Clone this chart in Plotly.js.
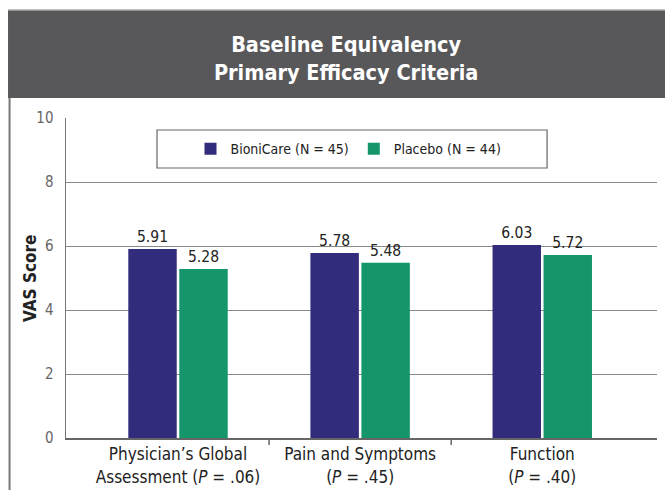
<!DOCTYPE html>
<html>
<head>
<meta charset="utf-8">
<script src="https://cdn.plot.ly/plotly-3.0.1.min.js"></script>
<style>
html,body{margin:0;padding:0;background:#fff;}
#chart{width:665px;height:490px;}
</style>
</head>
<body>
<div id="chart"></div>
<script>
const categories = [
  "Physician’s Global<br>Assessment (<i>P</i> = .06)",
  "Pain and Symptoms<br>(<i>P</i> = .45)",
  "Function<br>(<i>P</i> = .40)"
];
const bionicareValues = [5.91, 5.78, 6.03];
const placeboValues = [5.28, 5.48, 5.72];
const seriesNames = ["BioniCare (N = 45)", "Placebo (N = 44)"];
const yTicks = [0, 2, 4, 6, 8, 10];

const FONT = "'Liberation Sans Narrow', 'DejaVu Sans Condensed', 'Roboto Condensed', 'Liberation Sans', sans-serif";

const traces = [
  {
    type: "bar", name: seriesNames[0], x: categories, y: bionicareValues,
    marker: {color: "#322C7D"},
    text: bionicareValues.map(v => v.toFixed(2)), textposition: "outside",
    textfont: {family: FONT, size: 15.5, color: "#222"}, cliponaxis: false
  },
  {
    type: "bar", name: seriesNames[1], x: categories, y: placeboValues,
    marker: {color: "#14966A"},
    text: placeboValues.map(v => v.toFixed(2)), textposition: "outside",
    textfont: {family: FONT, size: 15.5, color: "#222"}, cliponaxis: false
  }
];

const layout = {
  width: 665, height: 490,
  margin: {l: 66, r: 8, t: 118, b: 52},
  paper_bgcolor: "#fff", plot_bgcolor: "#fff",
  font: {family: FONT, color: "#222"},
  barmode: "group", bargap: 0.44, bargroupgap: 0.05,
  showlegend: true,
  legend: {
    orientation: "h", x: 0.478, xanchor: "center", y: 0.903, yanchor: "middle",
    bgcolor: "rgba(0,0,0,0)", borderwidth: 0,
    font: {family: FONT, size: 14, color: "#222"}
  },
  title: {
    text: "<b>Baseline Equivalency<br>Primary Efficacy Criteria</b>",
    font: {family: FONT, size: 21.5, color: "#fff"},
    x: 0.474, xref: "paper", xanchor: "center",
    y: 0.893, yref: "container", yanchor: "middle"
  },
  xaxis: {
    type: "category", range: [-0.615, 2.63],
    showline: true, linecolor: "#666", linewidth: 2,
    ticks: "", showgrid: false, zeroline: false,
    tickfont: {family: FONT, size: 17, color: "#222"}
  },
  yaxis: {
    range: [0, 10], tickvals: yTicks, ticks: "",
    showline: true, linecolor: "#777", linewidth: 1.5,
    showgrid: true, gridcolor: "#888", gridwidth: 1, zeroline: false,
    ticklabelstandoff: 8,
    tickfont: {family: FONT, size: 15, color: "#666"}
  },
  annotations: [
    {text: "<b>VAS Score</b>", xref: "paper", yref: "paper", x: -0.061, y: 0.5,
     xanchor: "center", yanchor: "middle", textangle: -90, showarrow: false,
     font: {family: FONT, size: 17, color: "#222"}}
  ],
  shapes: [
    {type: "rect", xref: "paper", yref: "paper", x0: -0.0981, x1: 1.02, y0: 1.0625, y1: 1.3375,
     fillcolor: "#58585A", line: {width: 0}, layer: "below"},
    {type: "line", xref: "paper", yref: "paper", x0: -0.0981, x1: 1.02, y0: 1.3375, y1: 1.3375,
     line: {color: "#aaa", width: 1.5}},
    {type: "line", xref: "paper", yref: "paper", x0: -0.0955, x1: -0.0955, y0: 1.0625, y1: -0.2,
     line: {color: "#777", width: 2}},
    {type: "rect", xref: "paper", yref: "paper", x0: 0.154, x1: 0.814, y0: 0.84375, y1: 0.9625,
     fillcolor: "rgba(0,0,0,0)", line: {color: "#666", width: 1.2}},
    {type: "line", xref: "x", yref: "paper", x0: 0.5, x1: 0.5, y0: 0, y1: -0.022,
     line: {color: "#666", width: 1.5}},
    {type: "line", xref: "x", yref: "paper", x0: 1.5, x1: 1.5, y0: 0, y1: -0.022,
     line: {color: "#666", width: 1.5}}
  ]
};

Plotly.newPlot("chart", traces, layout, {displayModeBar: false, staticPlot: true});
</script>
</body>
</html>
